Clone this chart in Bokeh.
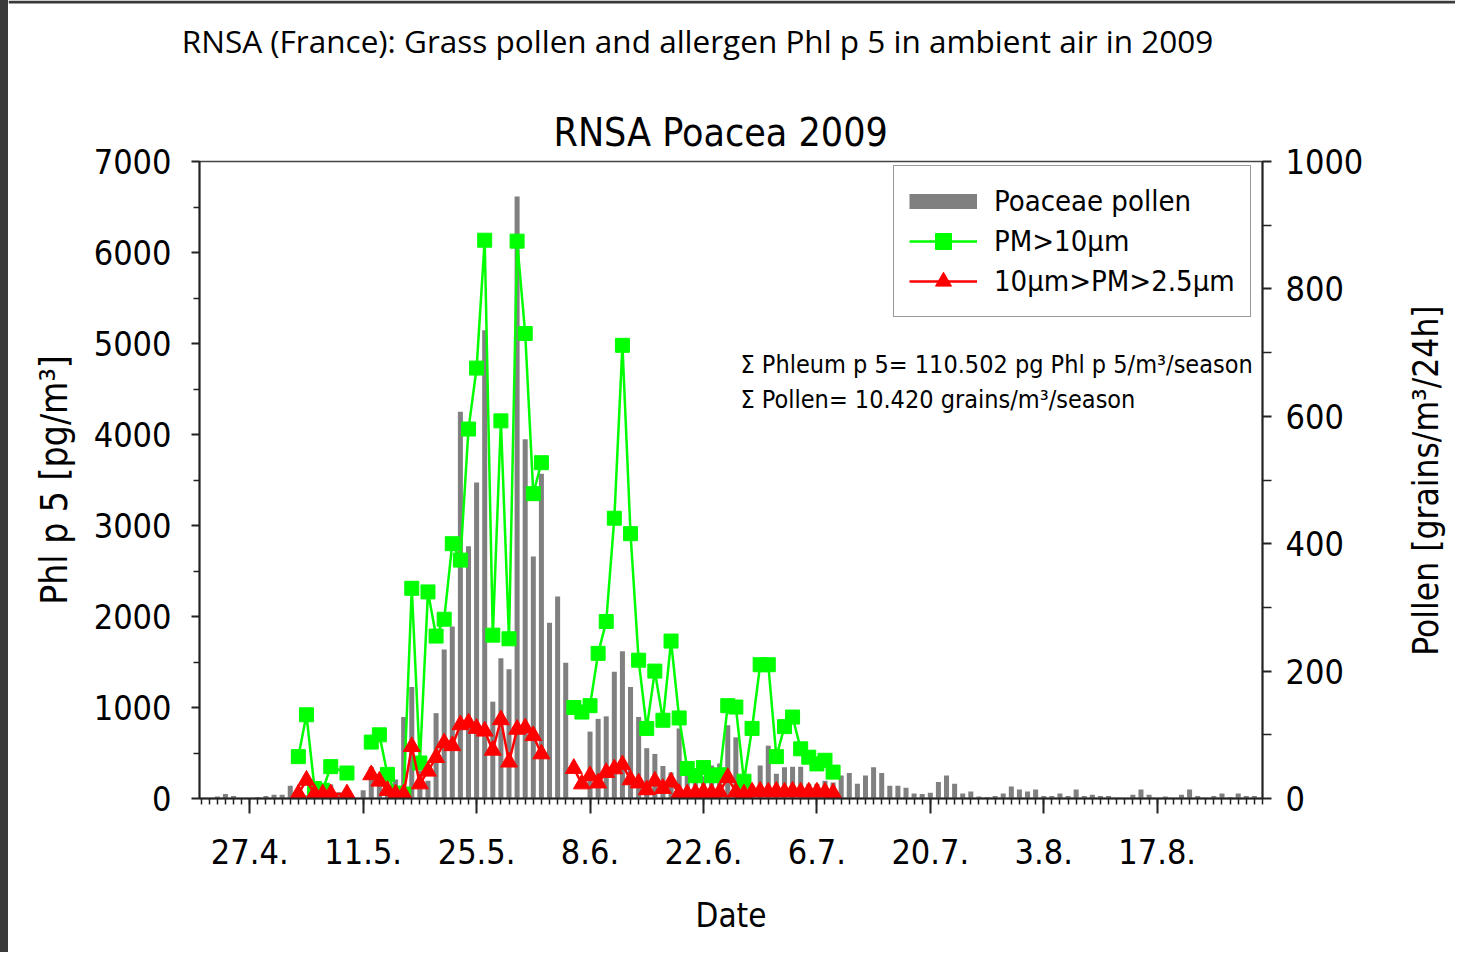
import math
from bokeh.plotting import figure
from bokeh.layouts import column, row
from bokeh.models import (Range1d, LinearAxis, FixedTicker, ColumnDataSource,
                          Legend, LegendItem, Label, BoxAnnotation, Spacer)
from bokeh.embed import file_html
from bokeh.resources import INLINE

# ---------------- data (x = day of year 2009) ----------------
pollen_days = list(range(111, 242))
pollen_grains = [
    0, 0, 3, 7, 4, 0, 0, 2, 4, 6,            # 111-120
    6, 20, 8, 5, 14, 8, 22, 10, 5, 0,        # 121-130
    13, 50, 38, 18, 30, 128, 175, 44, 28, 134,   # 131-140
    234, 270, 607, 396, 496, 735, 152, 220, 203, 945,  # 141-150
    564, 380, 510, 276, 317, 213, 0, 0, 105, 125,      # 151-160
    129, 199, 231, 175, 128, 79, 70, 51, 41, 110,      # 161-170
    45, 40, 35, 52, 55, 115, 96, 15, 20, 52,           # 171-180
    83, 39, 49, 50, 50, 23, 23, 28, 25, 36,            # 181-190
    40, 23, 36, 49, 40, 20, 20, 17, 8, 7,              # 191-200
    9, 26, 36, 23, 8, 11, 3, 2, 4, 8,                  # 201-210
    19, 14, 11, 14, 4, 4, 8, 4, 14, 4,                 # 211-220
    6, 4, 4, 1, 0, 6, 14, 6, 0, 3,                     # 221-230
    0, 6, 14, 4, 1, 4, 8, 2, 8, 4,                     # 231-240
    4,                                                 # 241
]

nan = float("nan")
pm_days = [123, 124, 125, 126, 127, 129, 130,
           132, 133, 134, 135, 136, 137, 138, 139, 140, 141, 142, 143, 144, 145,
           146, 147, 148, 149, 150, 151, 152, 153, 155,
           157, 158, 159, 160, 161, 162, 163, 164, 165, 166, 167, 168, 169, 170,
           171, 172, 173, 174, 175, 176, 177, 178, 179, 180, 181, 182, 183, 184,
           185, 186, 187, 188, 189]
pm10_coarse = [460, 920, 110, 90, 350, 280, nan,
               620, 700, 265, 60, 50, 2310, 390, 2270, 1785, 1970, 2800, 2620, 4060, 4730,
               6135, 1795, 4150, 1755, 6125, 5110, 3350, 3690, nan,
               1000, 950, 1020, 1595, 1945, 3080, 4980, 2910, 1520, 770, 1400, 860, 1730, 885,
               330, 250, 340, 250, 260, 1020, 1005, 190, 770, 1470, 1470, 460, 790, 895,
               546, 454, 380, 420, 290]
pm10_fine = [50, 200, 50, 50, 50, 50, nan,
             260, 190, 88, 50, 50, 570, 160, 300, 450, 610, 580, 810, 830, 770,
             740, 530, 865, 400, 760, 775, 690, 490, nan,
             330, 160, 250, 170, 285, 325, 370, 205, 170, 95, 190, 110, 180, 55,
             50, 60, 70, 60, 70, 230, 70, 50, 70, 80, 70, 80, 70, 80,
             70, 70, 70, 70, 60]

tick_days = [117, 131, 145, 159, 173, 187, 201, 215, 229]
tick_labels = ["27.4.", "11.5.", "25.5.", "8.6.", "22.6.", "6.7.", "20.7.", "3.8.", "17.8."]

FONT = "DejaVu Sans Condensed"
AX = "#222222"
GRAY = "#808080"
GREEN = "#00ff00"
RED = "#ff0000"
DARK = "#3a3a3a"

# page geometry (pixels)
PAGE_W, PAGE_H = 1455, 952
TOP_H = 100                 # strip holding the page title
EDGE_L, EDGE_T = 8, 3       # dark screen-capture edges of the reference
FRAME_L, FRAME_R, FRAME_T, FRAME_B = 199, 1262, 161, 798
ROW_W = 1400
MAIN_W = ROW_W - EDGE_L
MAIN_H = PAGE_H - TOP_H
RIGHT_W = PAGE_W - ROW_W
BORDER_T = FRAME_T - TOP_H
BORDER_B = PAGE_H - FRAME_B


def blank_fig(w, h, **kw):
    f = figure(width=w, height=h, x_range=Range1d(0, w), y_range=Range1d(0, h),
               output_backend="svg", toolbar_location=None,
               x_axis_location=None, y_axis_location=None,
               min_border_left=0, min_border_right=0, **kw)
    f.title.visible = False
    f.grid.visible = False
    f.outline_line_color = None
    f.background_fill_color = "white"
    f.border_fill_color = "white"
    return f


# ---------------- top strip with the page title ----------------
top = blank_fig(PAGE_W - EDGE_L, TOP_H, min_border=0, min_border_top=0, min_border_bottom=0)
top.add_layout(BoxAnnotation(bottom=TOP_H - EDGE_T, bottom_units="screen",
                             fill_color=DARK, fill_alpha=1, line_color=None))
top.add_layout(Label(x=697 - EDGE_L, y=TOP_H - 40, x_units="screen", y_units="screen",
                     text="RNSA (France): Grass pollen and allergen Phl p 5 in ambient air in 2009",
                     text_font="Open Sans", text_font_size="31.5px", text_align="center",
                     text_baseline="middle", text_color="black"))

# ---------------- main chart ----------------
p = figure(width=MAIN_W, height=MAIN_H,
           x_range=Range1d(110.8, 242.0), y_range=Range1d(0, 7000),
           output_backend="svg", toolbar_location=None,
           min_border_left=FRAME_L - EDGE_L, min_border_right=ROW_W - FRAME_R,
           min_border_top=BORDER_T, min_border_bottom=BORDER_B,
           x_axis_location=None, y_axis_location=None,
           title="RNSA Poacea 2009")
p.title.text_font = FONT
p.title.text_font_size = "39px"
p.title.text_font_style = "normal"
p.title.text_color = "black"
p.title.align = "left"
p.title.offset = 354
p.title.standoff = 13
p.grid.visible = False
p.outline_line_color = "#444444"
p.outline_line_width = 1.5
p.background_fill_color = "white"
p.border_fill_color = "white"
p.extra_y_ranges = {"pollen": Range1d(0, 1000)}

xaxis = LinearAxis(ticker=FixedTicker(ticks=tick_days, minor_ticks=pollen_days + [242]))
xaxis.major_label_overrides = {d: l for d, l in zip(tick_days, tick_labels)}
xaxis.axis_label = "Date"
yaxis = LinearAxis(ticker=FixedTicker(ticks=list(range(0, 7001, 1000)),
                                      minor_ticks=list(range(500, 7000, 1000))))
yaxis.axis_label = "Phl p 5 [pg/m³]"
raxis = LinearAxis(y_range_name="pollen",
                   ticker=FixedTicker(ticks=list(range(0, 1001, 200)),
                                      minor_ticks=list(range(100, 1000, 200))))

for ax in (xaxis, yaxis, raxis):
    ax.axis_line_color = AX
    ax.axis_line_width = 2
    ax.major_tick_line_color = AX
    ax.minor_tick_line_color = AX
    ax.major_tick_line_width = 2
    ax.minor_tick_line_width = 1.5
    ax.major_tick_in = 0
    ax.minor_tick_in = 0
    ax.major_label_text_font = FONT
    ax.axis_label_text_font = FONT
    ax.major_label_text_color = "black"
    ax.axis_label_text_color = "black"
    ax.axis_label_text_font_style = "normal"
    ax.major_label_text_font_size = "34px"
    ax.axis_label_text_font_size = "33px"

xaxis.major_tick_out = 15
xaxis.minor_tick_out = 6
xaxis.major_label_standoff = 25
xaxis.axis_label_standoff = 29
yaxis.major_tick_out = 8
yaxis.minor_tick_out = 6
yaxis.major_label_standoff = 20
yaxis.axis_label_standoff = 15
yaxis.axis_label_text_font_size = "37px"
raxis.major_tick_out = 9
raxis.minor_tick_out = 9
raxis.major_label_standoff = 14

p.add_layout(xaxis, "below")
p.add_layout(yaxis, "left")
p.add_layout(raxis, "right")

bar_src = ColumnDataSource(dict(day=pollen_days, grains=pollen_grains))
pm_src = ColumnDataSource(dict(day=pm_days, coarse=pm10_coarse, fine=pm10_fine))
proxy_src = ColumnDataSource(dict(day=pollen_days[:1], grains=[nan]))

p.vbar(x="day", top="grains", width=0.62, source=bar_src, y_range_name="pollen",
       fill_color=GRAY, line_color=None)
g_line = p.line("day", "coarse", source=pm_src, line_color=GREEN, line_width=2.5)
g_mark = p.scatter("day", "coarse", source=pm_src, marker="square", size=14,
                   fill_color=GREEN, line_color=GREEN)
r_line = p.line("day", "fine", source=pm_src, line_color=RED, line_width=2.5)
r_mark = p.scatter("day", "fine", source=pm_src, marker="triangle", size=17,
                   fill_color=RED, line_color=RED)
bar_proxy = p.line("day", "grains", source=proxy_src, y_range_name="pollen",
                   line_color=GRAY, line_width=15)

legend = Legend(items=[
    LegendItem(label="Poaceae pollen", renderers=[bar_proxy]),
    LegendItem(label="PM>10µm", renderers=[g_line, g_mark]),
    LegendItem(label="10µm>PM>2.5µm", renderers=[r_line, r_mark]),
], location=(694, 481))
legend.label_text_font = FONT
legend.label_text_font_size = "29px"
legend.label_text_color = "black"
legend.glyph_width = 68
legend.glyph_height = 40
legend.label_height = 40
legend.spacing = 0
legend.padding = 15
legend.margin = 0
legend.label_standoff = 17
legend.border_line_color = "#333333"
legend.border_line_width = 1.5
legend.background_fill_alpha = 1
p.add_layout(legend, "center")

p.add_layout(Label(x=541, y=434, x_units="screen", y_units="screen",
                   text="Σ Phleum p 5= 110.502 pg Phl p 5/m³/season", text_font=FONT,
                   text_font_size="25px", text_align="left", text_baseline="middle",
                   text_color="black"))
p.add_layout(Label(x=541, y=399, x_units="screen", y_units="screen",
                   text="Σ Pollen= 10.420 grains/m³/season", text_font=FONT,
                   text_font_size="25px", text_align="left", text_baseline="middle",
                   text_color="black"))

# ---------------- right strip with the pollen axis title ----------------
right = blank_fig(RIGHT_W, MAIN_H, min_border=0,
                  min_border_top=BORDER_T, min_border_bottom=BORDER_B)
right.add_layout(Label(x=1425 - ROW_W, y=FRAME_B - 480, x_units="screen",
                       y_units="screen", text="Pollen [grains/m³/24h]", angle=math.pi / 2,
                       text_font=FONT, text_font_size="35px", text_align="center",
                       text_baseline="middle", text_color="black"))

edge = Spacer(width=EDGE_L, height=PAGE_H, styles={"background-color": DARK})
layout = row(edge, column(top, row(p, right, spacing=0), spacing=0), spacing=0)
open("out.html", "w").write(file_html(layout, INLINE))
